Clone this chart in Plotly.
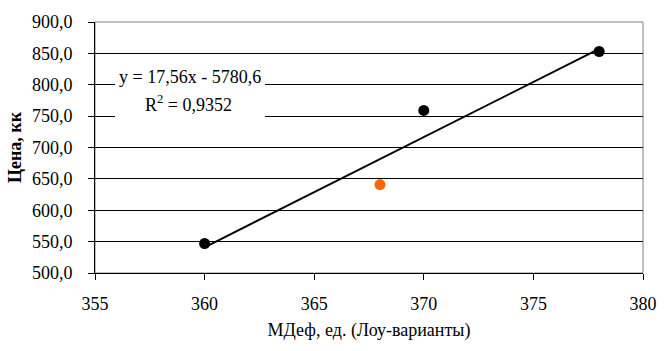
import plotly.graph_objects as go

# Data
x_black = [360, 370, 378]
y_black = [547, 759, 853]
x_orange = [368]
y_orange = [641]
slope = 17.56
intercept = -5780.6
trend_x = [360, 378]
trend_y = [slope * v + intercept for v in trend_x]
eq_line1 = "y = 17,56x - 5780,6"
eq_line2 = "R<sup>2</sup> = 0,9352"
x_ticks = [355, 360, 365, 370, 375, 380]
y_ticks = [500, 550, 600, 650, 700, 750, 800, 850, 900]

font = "'Liberation Serif', 'Times New Roman', serif"

fig = go.Figure()
fig.add_trace(go.Scatter(x=trend_x, y=trend_y, mode="lines",
                         line=dict(color="black", width=2), showlegend=False, hoverinfo="skip"))
fig.add_trace(go.Scatter(x=x_black, y=y_black, mode="markers",
                         marker=dict(color="black", size=11), showlegend=False))
fig.add_trace(go.Scatter(x=x_orange, y=y_orange, mode="markers",
                         marker=dict(color="#FF6600", size=11), showlegend=False))

# plot-area border (grey top/right)
fig.add_shape(type="rect", xref="paper", yref="paper", x0=0, y0=0, x1=1, y1=1,
              line=dict(color="#808080", width=1), layer="below")
# white box behind the equation label
fig.add_shape(type="rect", xref="paper", yref="paper", x0=0.0365, x1=0.310, y0=0.622, y1=0.841,
              line=dict(width=0), fillcolor="white", layer="above")

fig.add_annotation(x=0.173, y=0.781, xref="paper", yref="paper", text=eq_line1,
                   showarrow=False, xanchor="center", yanchor="middle",
                   font=dict(family=font, size=18, color="black"))
fig.add_annotation(x=0.171, y=0.677, xref="paper", yref="paper", text=eq_line2,
                   showarrow=False, xanchor="center", yanchor="middle",
                   font=dict(family=font, size=18, color="black"))

fig.update_layout(
    width=665, height=351,
    margin=dict(l=95, r=22, t=22, b=78),
    paper_bgcolor="white", plot_bgcolor="white",
    separators=", ",
    font=dict(family=font, size=18, color="black"),
    xaxis=dict(range=[355, 380], tickvals=x_ticks, showgrid=False, zeroline=False,
               showline=True, linecolor="black", linewidth=1,
               ticks="outside", ticklen=6, tickcolor="black",
               ticklabelstandoff=8, automargin=False,
               tickfont=dict(family=font, size=18),
               title=dict(text="МДеф, ед. (Лоу-варианты)", standoff=10,
                          font=dict(family=font, size=18))),
    yaxis=dict(range=[500, 900], tickvals=y_ticks, tickformat=".1f",
               showgrid=True, gridcolor="black", gridwidth=1, zeroline=False,
               showline=True, linecolor="black", linewidth=1,
               ticks="outside", ticklen=6, tickcolor="black",
               ticklabelstandoff=12, automargin=False,
               tickfont=dict(family=font, size=18),
               title=dict(text="<b>Цена, кк</b>", standoff=5,
                          font=dict(family=font, size=18))),
)

fig.write_html("out.html")
